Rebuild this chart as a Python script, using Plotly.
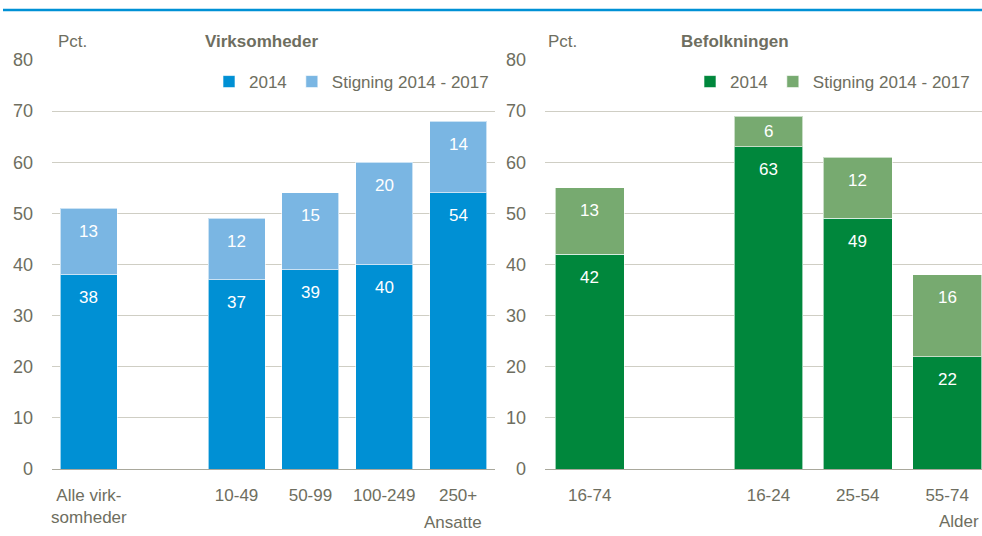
import plotly.graph_objects as go

# ---- data ----
firm_categories = ["Alle virk-<br>somheder", " ", "10-49", "50-99", "100-249", "250+"]
firm_2014 = [38, None, 37, 39, 40, 54]
firm_increase = [13, None, 12, 15, 20, 14]

pop_categories = ["16-74", " ", "16-24", "25-54", "55-74"]
pop_2014 = [42, None, 63, 49, 22]
pop_increase = [13, None, 6, 12, 16]

y_ticks = [0, 10, 20, 30, 40, 50, 60, 70, 80]

# ---- style ----
FONT = "Liberation Sans, Arial, sans-serif"
GREY = "#6e6e60"
BLUE = "#0090d4"
LBLUE = "#7ab6e3"
GREEN = "#00873c"
LGREEN = "#77aa70"
FS = 17

W, H = 982, 536
Y_TOP_PX, Y_BOT_PX = 60, 469
PX_PER_UNIT = (Y_BOT_PX - Y_TOP_PX) / 80.0
LABEL_OFFSET = 23  # px below the top of each segment ("inside end")

fig = go.Figure()

common = dict(marker_line=dict(color="rgba(255,255,255,0.6)", width=1), hoverinfo="skip")

fig.add_trace(go.Bar(x=firm_categories, y=firm_2014, name="2014",
                     marker_color=BLUE, xaxis="x", yaxis="y", legend="legend", **common))
fig.add_trace(go.Bar(x=firm_categories, y=firm_increase, name="Stigning 2014 - 2017",
                     marker_color=LBLUE, xaxis="x", yaxis="y", legend="legend", **common))
fig.add_trace(go.Bar(x=pop_categories, y=pop_2014, name="2014",
                     marker_color=GREEN, xaxis="x2", yaxis="y2", legend="legend2", **common))
fig.add_trace(go.Bar(x=pop_categories, y=pop_increase, name="Stigning 2014 - 2017",
                     marker_color=LGREEN, xaxis="x2", yaxis="y2", legend="legend2", **common))


def add_value_labels(cats, base, inc, xref, yref):
    for c, b, i in zip(cats, base, inc):
        if b is None:
            continue
        for bottom, val in ((0, b), (b, i)):
            seg_px = val * PX_PER_UNIT
            shift = min(LABEL_OFFSET, seg_px / 2)
            fig.add_annotation(x=c, y=bottom + val, xref=xref, yref=yref, text=str(val),
                               showarrow=False, yanchor="middle", yshift=-shift,
                               font=dict(color="white", size=FS, family=FONT))


add_value_labels(firm_categories, firm_2014, firm_increase, "x", "y")
add_value_labels(pop_categories, pop_2014, pop_increase, "x2", "y2")

ydom = [(H - Y_BOT_PX) / H, (H - Y_TOP_PX) / H]

yaxis_common = dict(range=[0, 80], tickvals=y_ticks, showgrid=True, gridcolor="#cfcec4",
                    gridwidth=1, zeroline=True, zerolinecolor="#a9a89c", zerolinewidth=1,
                    showline=False, ticks="", ticklabelstandoff=18, automargin=False,
                    tickfont=dict(size=FS + 1, color=GREY, family=FONT), domain=ydom,
                    fixedrange=True)
xaxis_common = dict(type="category", showgrid=False, showline=False, ticks="",
                    tickfont=dict(size=FS, color=GREY, family=FONT), ticklabelstandoff=14,
                    automargin=False, fixedrange=True)

fig.update_layout(
    width=W, height=H, autosize=False,
    margin=dict(l=0, r=0, t=0, b=0, pad=0),
    paper_bgcolor="white", plot_bgcolor="white",
    barmode="stack", bargap=0.23,
    font=dict(family=FONT, color=GREY, size=FS),
    xaxis=dict(domain=[52 / W, 495 / W], range=[-0.5, 5.5], anchor="y", **xaxis_common),
    yaxis=dict(anchor="x", **yaxis_common),
    xaxis2=dict(domain=[545 / W, 1.0], range=[-0.5, 4.39], anchor="y2", **xaxis_common),
    yaxis2=dict(anchor="x2", **yaxis_common),
    legend=dict(orientation="h", x=494 / W, xanchor="right", y=(H - 82) / H, yanchor="middle",
                font=dict(size=FS, color=GREY, family=FONT), bgcolor="rgba(0,0,0,0)",
                itemwidth=30, tracegroupgap=0,
                itemclick=False, itemdoubleclick=False, traceorder="normal"),
    legend2=dict(orientation="h", x=975 / W, xanchor="right", y=(H - 82) / H, yanchor="middle",
                 font=dict(size=FS, color=GREY, family=FONT), bgcolor="rgba(0,0,0,0)",
                 itemwidth=30, tracegroupgap=0,
                 itemclick=False, itemdoubleclick=False, traceorder="normal"),
    showlegend=True,
)

# top rule
fig.add_shape(type="line", xref="paper", yref="paper", x0=3 / W, x1=1.0,
              y0=(H - 10) / H, y1=(H - 10) / H, line=dict(color="#0091d5", width=2.5))

ann = dict(showarrow=False, font=dict(size=FS, color=GREY, family=FONT))
fig.add_annotation(text="Pct.", xref="paper", yref="paper", x=56 / W, xanchor="left",
                   y=(H - 42) / H, yanchor="middle", **ann)
fig.add_annotation(text="<b>Virksomheder</b>", xref="paper", yref="paper", x=261 / W,
                   xanchor="center", y=(H - 42) / H, yanchor="middle", **ann)
fig.add_annotation(text="Pct.", xref="paper", yref="paper", x=546 / W, xanchor="left",
                   y=(H - 42) / H, yanchor="middle", **ann)
fig.add_annotation(text="<b>Befolkningen</b>", xref="paper", yref="paper", x=735 / W,
                   xanchor="center", y=(H - 42) / H, yanchor="middle", **ann)
fig.add_annotation(text="Ansatte", xref="paper", yref="paper", x=484 / W, xanchor="right",
                   y=(H - 522) / H, yanchor="middle", **ann)
fig.add_annotation(text="Alder", xref="paper", yref="paper", x=981 / W, xanchor="right",
                   y=(H - 521) / H, yanchor="middle", **ann)

fig.write_html("out.html", config={"displayModeBar": False},
               post_script="document.body.style.margin='0';document.body.style.overflow='hidden';")
